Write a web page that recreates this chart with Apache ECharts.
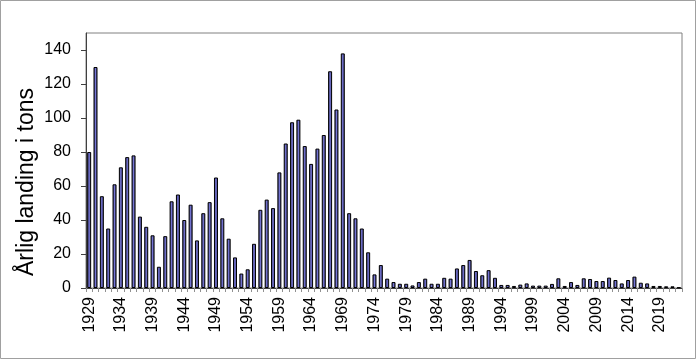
<!DOCTYPE html>
<html>
<head>
<meta charset="utf-8">
<script src="https://cdn.jsdelivr.net/npm/echarts@6/dist/echarts.min.js"></script>
<style>html,body{margin:0;padding:0;background:#fff;}#c{width:700px;height:361px;}</style>
</head>
<body>
<div id="c"></div>
<script>
const years = [
  '1929','1930','1931','1932','1933','1934','1935','1936','1937','1938',
  '1939','1940','1941','1942','1943','1944','1945','1946','1947','1948',
  '1949','1950','1951','1952','1953','1954','1955','1956','1957','1958',
  '1959','1960','1961','1962','1963','1964','1965','1966','1967','1968',
  '1969','1970','1971','1972','1973','1974','1975','1976','1977','1978',
  '1979','1980','1981','1982','1983','1984','1985','1986','1987','1988',
  '1989','1990','1991','1992','1993','1994','1995','1996','1997','1998',
  '1999','2000','2001','2002','2003','2004','2005','2006','2007','2008',
  '2009','2010','2011','2012','2013','2014','2015','2016','2017','2018',
  '2019','2020','2021','2022'
];
const landings = [
  80, 130, 54, 35, 61, 71, 77, 78, 42, 36,
  31, 12.5, 30.5, 51, 55, 40, 49, 28, 44, 50.5,
  65, 41, 29, 18, 8.5, 11, 26, 46, 52, 47,
  68, 85, 97.5, 99, 83.5, 73, 82, 90, 127.5, 105,
  138, 44, 41, 35, 21, 8, 13.5, 5.5, 3.5, 2.5,
  2.5, 1.5, 3.5, 5.5, 2.5, 2.5, 6, 5.5, 11.5, 13.5,
  16.5, 10, 7.5, 10.5, 6, 1.8, 1.8, 1.2, 2, 2.7,
  1.4, 1.4, 1.4, 2.4, 5.7, 1.2, 3.5, 1.8, 5.7, 5.3,
  4.1, 4.1, 6.1, 4.7, 2.7, 4.7, 6.7, 3.1, 2.7, 1.2,
  1.2, 1, 1, 0.3
];
const yTicks = [0, 20, 40, 60, 80, 100, 120, 140];
const yTitle = 'Årlig landing i tons';

const chart = echarts.init(document.getElementById('c'), null, {renderer: 'canvas'});
chart.setOption({
  animation: false,
  backgroundColor: '#fff',
  graphic: [{
    type: 'rect', silent: true,
    shape: {x: 0.5, y: 0.5, width: 695, height: 358},
    style: {fill: 'none', stroke: '#a0a0a0', lineWidth: 1}
  }, {
    type: 'text', silent: true,
    x: 27, y: 182, rotation: Math.PI / 2,
    style: {
      text: yTitle, fill: '#000',
      font: '23px "Liberation Sans", Arial, sans-serif',
      align: 'center', verticalAlign: 'middle'
    }
  }],
  grid: {left: 86, right: 18, top: 33, bottom: 73, show: true, borderColor: '#808080', borderWidth: 1},
  xAxis: {
    type: 'category',
    data: years,
    boundaryGap: true,
    axisLine: {lineStyle: {color: '#404040', width: 1}},
    axisTick: {show: true, interval: 0, length: 4, lineStyle: {color: '#909090'}},
    axisLabel: {interval: 4, rotate: 90, fontFamily: 'Liberation Sans, Arial', fontSize: 16, color: '#000', margin: 9}
  },
  yAxis: {
    type: 'value',
    min: 0, max: 150,
    axisLine: {show: true, lineStyle: {color: '#404040', width: 1}},
    axisTick: {show: true, length: 5, lineStyle: {color: '#404040'}, customValues: yTicks},
    axisLabel: {fontFamily: 'Liberation Sans, Arial', fontSize: 16, color: '#000', margin: 15, customValues: yTicks},
    splitLine: {show: false}
  },
  series: [{
    type: 'bar',
    data: landings,
    barWidth: 4,
    itemStyle: {
      color: new echarts.graphic.LinearGradient(0, 0, 1, 0, [
        {offset: 0, color: '#24244f'},
        {offset: 0.5, color: '#7878d8'},
        {offset: 1, color: '#24244f'}
      ]),
      borderColor: '#000',
      borderWidth: 1
    }
  }]
});
</script>
</body>
</html>
